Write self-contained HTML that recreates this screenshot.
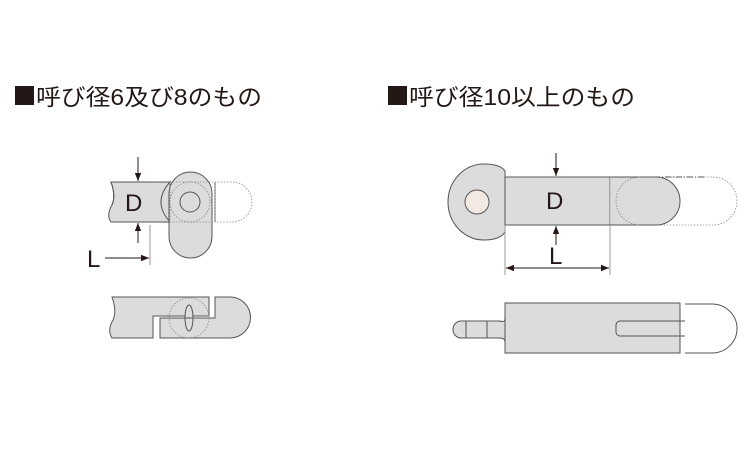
<!DOCTYPE html>
<html><head><meta charset="utf-8"><style>
html,body{margin:0;padding:0;background:#fff;}
svg{display:block}
text{font-family:"Liberation Sans","Noto Sans CJK JP",sans-serif;fill:#231815}
</style></head><body>
<svg width="750" height="450" viewBox="0 0 750 450" xmlns="http://www.w3.org/2000/svg">
<defs>
<marker id="ah" viewBox="0 0 10 10" refX="10" refY="5" markerWidth="8" markerHeight="8" orient="auto-start-reverse"><path d="M0,1 L10,5 L0,9 z" fill="#231815"/></marker>
</defs>
<rect x="15" y="86" width="19" height="19" fill="#231815"/>
<text x="36" y="105" font-size="23" textLength="226" lengthAdjust="spacingAndGlyphs">呼び径6及び8のもの</text>
<rect x="388" y="86" width="19" height="19" fill="#231815"/>
<text x="409" y="105" font-size="23" textLength="226" lengthAdjust="spacingAndGlyphs">呼び径10以上のもの</text>

<g stroke="#555" stroke-width="1" fill="#dcdcdc">
<path d="M111,182 L170,182 L170,222 L111,222 Q106,215 112,205 Q116,196 111,182 z"/>
<path d="M170,182 Q152,202 170,222 z"/>
<rect x="169" y="172" width="43" height="86" rx="21.5"/>
<circle cx="190" cy="202" r="10" fill="#dcdcdc"/>
<line x1="215" y1="182" x2="215" y2="222"/>
<path d="M111,182 Q116,196 112,205" fill="none"/>
</g>
<g fill="none" stroke="#888" stroke-width="0.8" stroke-dasharray="1.5,1.5">
<rect x="170" y="182" width="45" height="40"/>
<circle cx="190" cy="202" r="20"/>
<path d="M215,182 L232,182 A20,20 0 0 1 232,222 L215,222"/>
</g>
<text x="125" y="211" font-size="24">D</text>
<line x1="138" y1="157" x2="138" y2="181" stroke="#231815" marker-end="url(#ah)"/>
<line x1="138" y1="243" x2="138" y2="223" stroke="#231815" marker-end="url(#ah)"/>
<line x1="150" y1="225" x2="150" y2="265" stroke="#999"/>
<line x1="105" y1="258" x2="149" y2="258" stroke="#231815" marker-end="url(#ah)"/>
<text x="87" y="267" font-size="24">L</text>

<g stroke="#555" stroke-width="1" fill="#dcdcdc">
<path d="M112,297 L209,297 L209,316 L153,316 L153,338 L112,338 Q107,330 113,320 Q117,311 112,297 z"/>
<path d="M215,297 L230,297 A20.5,20.5 0 0 1 230,338 L160,338 L160,318 L215,318 z"/>
<ellipse cx="189" cy="318" rx="4" ry="13"/>
<line x1="180" y1="318" x2="198" y2="318"/>
</g>
<circle cx="189" cy="318" r="20" fill="none" stroke="#888" stroke-width="0.8" stroke-dasharray="1.5,1.5"/>

<g stroke="#555" stroke-width="1" fill="#dcdcdc">
<path d="M505,171 Q500,164 484,164 A36,38 0 0 0 484,240 Q500,240 505,232 z"/>
<circle cx="477" cy="202" r="12" fill="#f3e9e3"/>
<rect x="505" y="177" width="105" height="48"/>
<path d="M610,177 L656,177 A24,24 0 0 1 656,225 L610,225" fill="#dcdcdc"/>
</g>
<g fill="none" stroke="#888" stroke-width="0.8" stroke-dasharray="1.5,1.5">
<line x1="610" y1="177" x2="610" y2="225"/>
<path d="M640,177 A24,24 0 0 0 640,225"/>
<path d="M656,177 L713,177 A24,24 0 0 1 713,225 L656,225"/>
</g>
<line x1="610" y1="177" x2="705" y2="177" stroke="#555" stroke-dasharray="6,2,1,2"/>
<text x="546" y="209" font-size="24">D</text>
<line x1="556" y1="153" x2="556" y2="176" stroke="#231815" marker-end="url(#ah)"/>
<line x1="556" y1="245" x2="556" y2="226" stroke="#231815" marker-end="url(#ah)"/>
<line x1="505" y1="225" x2="505" y2="275" stroke="#999"/>
<line x1="610" y1="225" x2="610" y2="275" stroke="#999"/>
<line x1="506" y1="268" x2="609" y2="268" stroke="#231815" marker-start="url(#ah)" marker-end="url(#ah)"/>
<text x="549" y="264" font-size="24">L</text>

<g stroke="#555" stroke-width="1" fill="#dcdcdc">
<path d="M461,321 L500,321 Q505,323 505,318 L505,342 Q505,338 500,338 L461,338 A8,8.5 0 0 1 461,321 z"/>
<rect x="505" y="303" width="175" height="50"/>
<line x1="466" y1="321" x2="466" y2="338"/>
<line x1="487" y1="321" x2="487" y2="338"/>
<path d="M685,321 L620,321 A4,4 0 0 0 616,325 L616,332 A4,4 0 0 0 620,336 L685,336" fill="none"/>
<path d="M685,304 L712,304 A25,24.5 0 0 1 712,353 L685,353" fill="none"/>
</g>
</svg>
</body></html>
